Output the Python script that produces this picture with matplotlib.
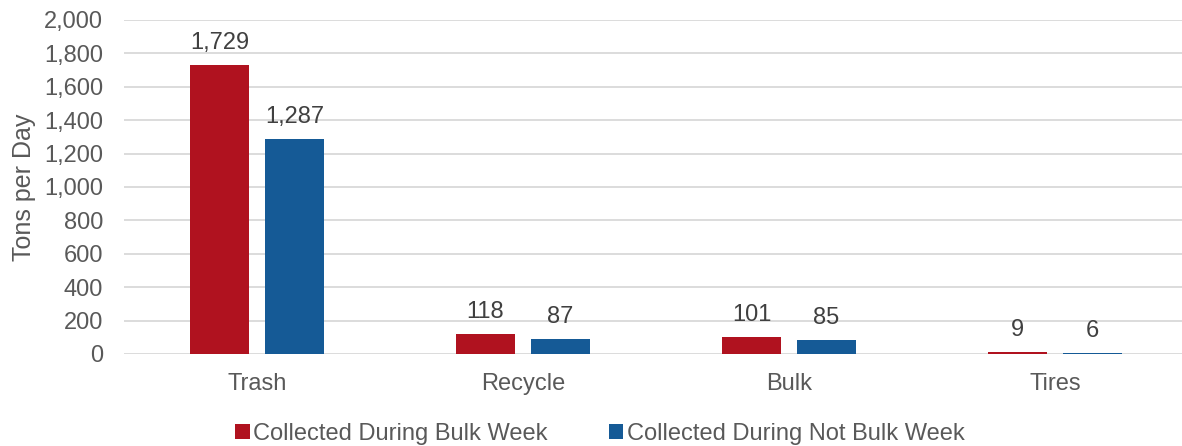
import matplotlib
matplotlib.use("Agg")
import matplotlib.pyplot as plt
import numpy as np

categories = ["Trash", "Recycle", "Bulk", "Tires"]
bulk_week = [1729, 118, 101, 9]
not_bulk_week = [1287, 87, 85, 6]
series_names = ["Collected During Bulk Week", "Collected During Not Bulk Week"]
yticks = [0, 200, 400, 600, 800, 1000, 1200, 1400, 1600, 1800, 2000]

plt.rcParams['font.family'] = ['Liberation Sans', 'DejaVu Sans']
RED = "#B0121F"
BLUE = "#155A96"
TXT = "#595959"
FS = 17

fig = plt.figure(figsize=(11.82, 4.46), dpi=100)
ax = fig.add_axes([124/1182, 1-354/446, 1064/1182, (354-20)/446])

x = np.arange(len(categories))
w = 0.222
off = 0.141
b1 = ax.bar(x - off, bulk_week, w, color=RED, label=series_names[0], zorder=3)
b2 = ax.bar(x + off, not_bulk_week, w, color=BLUE, label=series_names[1], zorder=3)

for bars, vals in ((b1, bulk_week), (b2, not_bulk_week)):
    for r, v in zip(bars, vals):
        ax.annotate(f"{v:,}", (r.get_x() + r.get_width()/2, r.get_height()),
                    xytext=(0, 8), textcoords="offset points",
                    ha="center", va="bottom", fontsize=FS, color="#404040")

ax.set_xlim(-0.5, 3.5)
ax.set_ylim(0, 2000)
ax.set_yticks(yticks)
ax.set_yticklabels([f"{t:,}" for t in yticks])
ax.set_xticks(x)
ax.set_xticklabels(categories)
ax.tick_params(axis='both', length=0, labelsize=FS, labelcolor=TXT)
ax.tick_params(axis='x', pad=13.5)
ax.tick_params(axis='y', pad=15)
ax.grid(axis='y', color="#D9D9D9", linewidth=1.3, zorder=0)
for s in ax.spines.values():
    s.set_visible(False)
ax.set_ylabel("Tons per Day", fontsize=18, color=TXT, labelpad=6)

leg_x = (600 - 124) / 1064
ax.legend(loc="center", bbox_to_anchor=(leg_x, -0.24), ncol=2, frameon=False,
          fontsize=FS, labelcolor=TXT, handlelength=0.6, handleheight=0.6,
          handletextpad=0.15, columnspacing=2.6, borderaxespad=0)

fig.savefig("out.png", dpi=100)
